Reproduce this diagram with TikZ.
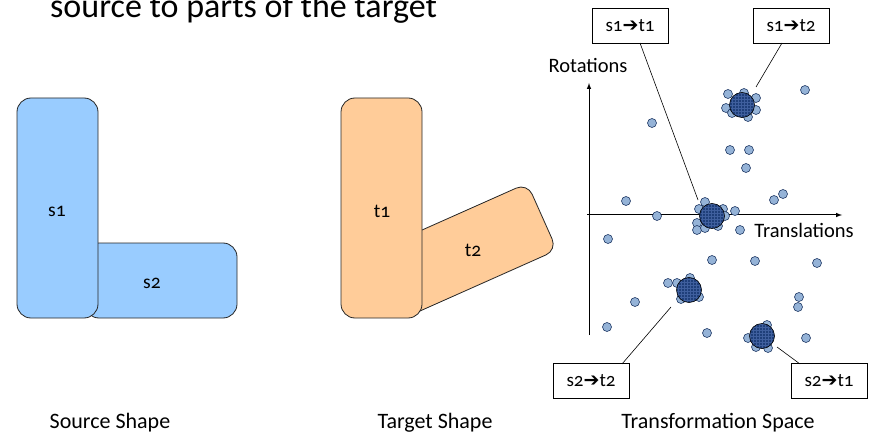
\documentclass[tikz,border=0pt]{standalone}
\usepackage{fontspec}
\setmainfont{Carlito}[Numbers=OldStyle]
\newfontfamily\arrowfont{DejaVu Sans}
\usetikzlibrary{patterns}
\definecolor{srcfill}{HTML}{99CCFF}
\definecolor{tgtfill}{HTML}{FFCC99}
\definecolor{dotfill}{HTML}{95B3D7}
\definecolor{dotline}{HTML}{1F3864}
\definecolor{clusterfill}{HTML}{1F3F7A}
\definecolor{clustergrid}{HTML}{3F5F9E}
\newcommand{\arr}{{\arrowfont ➔}}
\tikzset{
  shapebox/.style={draw=black!85, line width=0.8pt, rounded corners=14pt},
  dotp/.style={circle, draw=dotline, line width=0.6pt, fill=dotfill, inner sep=0pt, minimum size=9pt},
  callout/.style={draw=black, line width=0.7pt, fill=white, minimum width=76pt, minimum height=35pt, inner sep=0pt, font=\fontsize{19}{22}\selectfont},
  leader/.style={draw=black, line width=0.6pt},
  caption/.style={font=\fontsize{22}{26}\selectfont, inner sep=0pt},
  axislabel/.style={font=\fontsize{20.5}{24}\selectfont, inner sep=0pt},
  partlabel/.style={font=\fontsize{19.5}{22}\selectfont, inner sep=0pt},
}
\newcommand{\clusterat}[2]{%
  \fill[clusterfill] (#1) circle (12.5pt);
  \fill[pattern=grid, pattern color=clustergrid] (#1) circle (12.5pt);
  \draw[black, line width=0.6pt] (#1) circle (12.5pt);
  \node[inner sep=0pt] (#2) at (#1) {};
}
\begin{document}
\begin{tikzpicture}[x=1pt,y=-1pt]
\useasboundingbox (0,0) rectangle (877,438);
% title
\node[anchor=base west, inner sep=0pt, font=\fontsize{34}{38}\selectfont] (title) at (50,18) {source to parts of the target};

% source shape
\draw[shapebox, fill=srcfill] (85,243) rectangle (237,318);
\draw[shapebox, fill=srcfill] (17,98) rectangle (98,318);
\node[partlabel] (s1) at (57,211) {s1};
\node[partlabel] (s2) at (152,283) {s2};

% target shape
\draw[shapebox, fill=tgtfill, rounded corners=12pt] (371.8,252.4) -- (527.2,183.2) -- (557.0,250.0) -- (401.6,319.2) -- cycle;
\draw[shapebox, fill=tgtfill] (341,98) rectangle (422,318);
\node[partlabel] (t1) at (382,211) {t1};
\node[partlabel] (t2) at (473,250) {t2};

% axes
\draw[line width=1pt, -latex] (589,335) -- (589,83) coordinate (ytip);
\draw[line width=1pt, -latex] (587,215) -- (842,215) coordinate (xtip);
\node[axislabel] (rot) at (588,65) {Rotations};
\node[axislabel] (trans) at (804,230) {Translations};

% scattered dots
\foreach \p in {(805,90),(652,123),(730,150),(749,150),(746,168),(626,201),(657,216),(774,200),(783,194),(740,230),(608,239),(712,260),(755,261),(817,263),(635,302),(607,327),(799,297),(798,307),(707,333),(806,338),(735,211)}
  \node[dotp] at \p {};

% cluster A (s1->t2)
\foreach \p in {(728,94),(744,93),(756,98),(726,108),(756,110),(748,117),(732,113)}
  \node[dotp] at \p {};
\clusterat{742,105}{ca}
% cluster B (s1->t1)
\foreach \p in {(705,202),(699,209),(697,223),(697,230),(723,209),(725,216),(705,228),(718,226)}
  \node[dotp] at \p {};
\clusterat{712,216}{cb}
% cluster C (s2->t2)
\foreach \p in {(668,283),(677,283),(681,299),(699,297),(690,278)}
  \node[dotp] at \p {};
\clusterat{689,290}{cc}
% cluster D (s2->t1)
\foreach \p in {(748,338),(767,325),(768,348),(756,347)}
  \node[dotp] at \p {};
\clusterat{762,336}{cd}

% callouts
\node[callout] (c11) at (630,25.5) {s1\arr t1};
\node[callout] (c12) at (791,25.5) {s1\arr t2};
\node[callout] (c22) at (591,381) {s2\arr t2};
\node[callout] (c21) at (829,381) {s2\arr t1};
\coordinate (e11) at (698,200);
\coordinate (e12) at (756,87);
\coordinate (e22) at (671,307);
\coordinate (e21) at (777,347);
\draw[leader] (640,43) -- (e11);
\draw[leader] (782,43) -- (e12);
\draw[leader] (622,364) -- (e22);
\draw[leader] (800,364) -- (e21);

% captions
\node[caption] (cap1) at (110,423) {Source Shape};
\node[caption] (cap2) at (435,423) {Target Shape};
\node[caption] (cap3) at (718,423) {Transformation Space};
\end{tikzpicture}
\end{document}
